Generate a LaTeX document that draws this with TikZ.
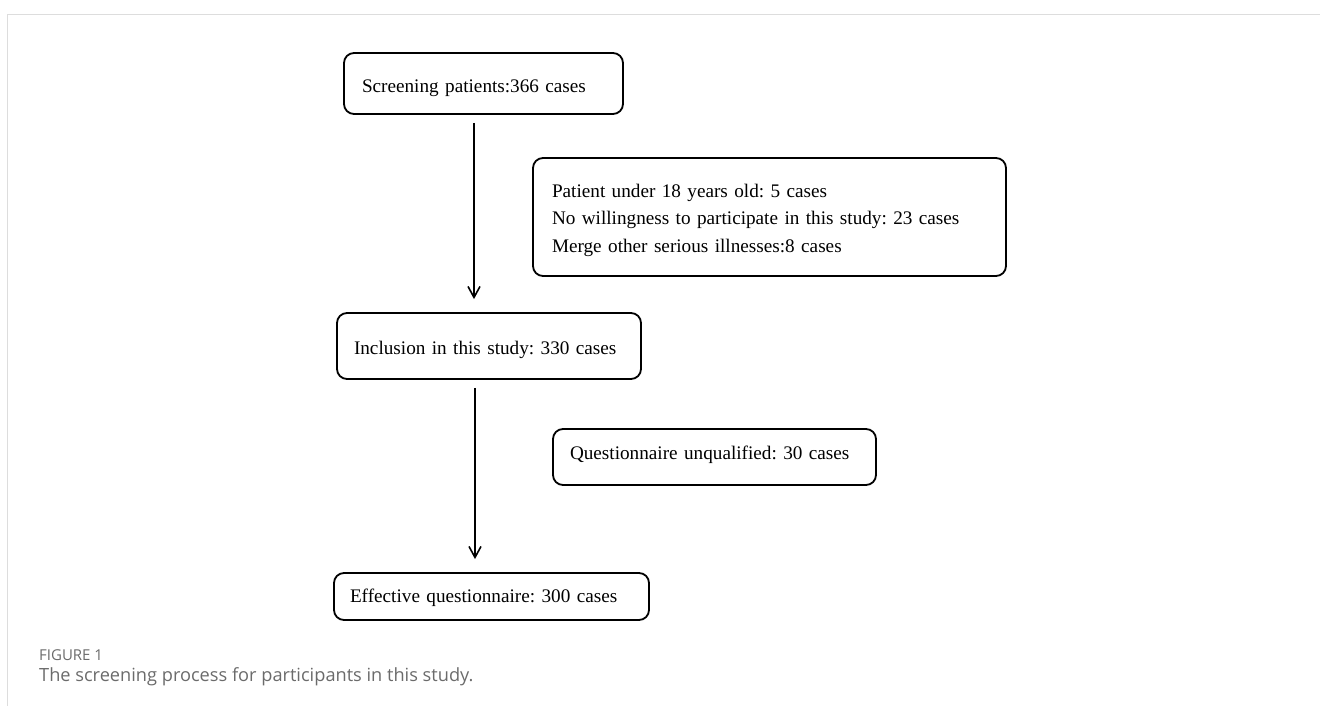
\documentclass[tikz,border=0pt]{standalone}
\usepackage{fontspec}
\setmainfont{Liberation Serif}
\newfontfamily\capfont{Open Sans}
\usetikzlibrary{arrows.meta,positioning}
\definecolor{frameGray}{HTML}{DDDDDD}
\definecolor{captionGray}{HTML}{6B6B6B}
\frenchspacing

\begin{document}
\begin{tikzpicture}[
    x=1pt, y=-1pt,
    every node/.style={font=\fontsize{19.2}{27.5}\selectfont},
    stage/.style={draw=black, line width=1.8pt, rounded corners=10pt, align=left, inner xsep=17pt, inner ysep=0pt, text depth=4.2pt},
    flow/.style={-{Straight Barb[length=11pt, width=12pt, line width=1.6pt]}, line width=1.6pt, shorten <=8pt, shorten >=13pt},
    caphead/.style={font=\capfont\fontsize{15}{18}\selectfont, text=captionGray, anchor=west, inner sep=0pt},
    captext/.style={font=\capfont\fontsize{18.2}{21}\selectfont, text=captionGray, anchor=west, inner sep=0pt}
  ]
    \useasboundingbox (0,0) rectangle (1320,706);
    % outer frame
    \draw[frameGray, line width=1.5pt] (7.5,706) -- (7.5,14.5) -- (1320,14.5);

    \node[stage, text width=243pt, minimum height=61pt, inner xsep=18pt, text height=22.5pt] (screen) at (483.5,83.5) {Screening patients:366 cases};
    \node[stage, text width=435pt, minimum height=118pt, inner xsep=19pt, text height=19.3pt, text depth=59.2pt] (excl) at (769.5,217) {Patient under 18 years old: 5 cases\\No willingness to participate in this study: 23 cases\\Merge other serious illnesses:8 cases};
    \node[stage, text width=270pt, minimum height=66pt, text height=21pt] (incl) at (489,346) {Inclusion in this study: 330 cases};
    \node[stage, text width=289pt, minimum height=56pt, text height=9.5pt] (unqual) at (714.5,457) {Questionnaire unqualified: 30 cases};
    \node[stage, text width=283pt, minimum height=47pt, inner xsep=16pt, text height=17pt] (effect) at (491.5,596.5) {Effective questionnaire: 300 cases};

    \draw[flow] ([xshift=-9.5pt]screen.south) -- ([xshift=-15pt]incl.north);
    \draw[flow] ([xshift=-14pt]incl.south) -- ([xshift=-16.5pt]effect.north);

    \node[caphead] (fighead) at (39,655) {FIGURE 1};
    \node[captext] (figtext) at (39,677) {The screening process for participants in this study.};
  \end{tikzpicture}
\end{document}
